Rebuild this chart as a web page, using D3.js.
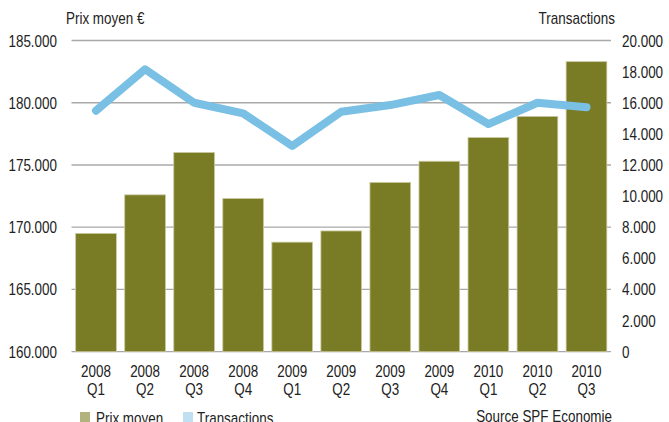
<!DOCTYPE html>
<html><head><meta charset="utf-8">
<script src="https://cdn.jsdelivr.net/npm/d3@7"></script>
<style>
html,body{margin:0;padding:0;background:#fff;}
svg text{font-family:'Liberation Sans Narrow','Liberation Sans',Arial,sans-serif;fill:#222;}
</style></head>
<body><svg id="c" width="669" height="422"></svg>
<script>
const years = ["2008","2008","2008","2008","2009","2009","2009","2009","2010","2010","2010"];
const quarters = ["Q1","Q2","Q3","Q4","Q1","Q2","Q3","Q4","Q1","Q2","Q3"];
const prixMoyen = [169500,172600,176000,172300,168800,169700,173600,175300,177200,178900,183300];
const transactions = [15490,18150,16000,15320,13220,15420,15850,16500,14630,16000,15710];
const leftTicks = [160000,165000,170000,175000,180000,185000];
const rightTicks = [0,2000,4000,6000,8000,10000,12000,14000,16000,18000,20000];

const svg = d3.select("#c");
const x0=71.5,x1=611,yTop=40.5,yBot=351.7;
const SX = 0.84, FS = 16;
const keys = years.map((y,i)=>y+" "+quarters[i]);
const x = d3.scaleBand().domain(keys).range([x0,x1]).paddingInner(0.17).paddingOuter(0.085);
const yL = d3.scaleLinear().domain([160000,185000]).range([yBot,yTop]);
const yR = d3.scaleLinear().domain([0,20000]).range([yBot,yTop]);
const fmt = v => v===0 ? "0" : d3.format(",")(v).replace(/,/g,".");

function label(sel, xx, yy, txt, anchor){
  return sel.append("text")
    .attr("transform",`translate(${xx},${yy}) scale(${SX},1)`)
    .attr("text-anchor",anchor||"start").attr("font-size",FS).text(txt);
}

// gridlines
svg.append("g").selectAll("line").data(leftTicks).join("line")
  .attr("x1",x0).attr("x2",x1).attr("y1",d=>yL(d)).attr("y2",d=>yL(d))
  .attr("stroke","#a9a9a9").attr("stroke-width",1.3);

// axis labels
const gl = svg.append("g");
leftTicks.forEach(d=>label(gl,57,yL(d)+6,fmt(d),"end"));
const gr = svg.append("g");
rightTicks.forEach(d=>label(gr,622,yR(d)+6,fmt(d),"start"));

// bars
svg.append("g").selectAll("rect").data(prixMoyen).join("rect")
  .attr("x",(d,i)=>x(keys[i])).attr("width",x.bandwidth())
  .attr("y",d=>yL(d)).attr("height",d=>yBot-yL(d))
  .attr("fill","#7a7b25").attr("stroke","#c9c9a0").attr("stroke-width",0.8);

// line
const line = d3.line().x((d,i)=>x(keys[i])+x.bandwidth()/2).y(d=>yR(d));
svg.append("path").datum(transactions).attr("d",line)
  .attr("fill","none").attr("stroke","#7ac0e4").attr("stroke-width",8)
  .attr("stroke-linejoin","round").attr("stroke-linecap","round");

// x labels
const gx = svg.append("g");
keys.forEach((k,i)=>{
  const cx = x(k)+x.bandwidth()/2;
  label(gx,cx,377,years[i],"middle");
  label(gx,cx,395,quarters[i],"middle");
});

// titles
label(svg,66,24,"Prix moyen €","start");
label(svg,615,24,"Transactions","end");

// legend
svg.append("rect").attr("x",80).attr("y",412).attr("width",10).attr("height",10).attr("fill","#b2b27f");
label(svg,96,424,"Prix moyen","start");
svg.append("rect").attr("x",183).attr("y",412).attr("width",10).attr("height",10).attr("fill","#c0e0f2");
label(svg,197,424,"Transactions","start");
label(svg,612,421.5,"Source SPF Economie","end");
</script></body></html>
